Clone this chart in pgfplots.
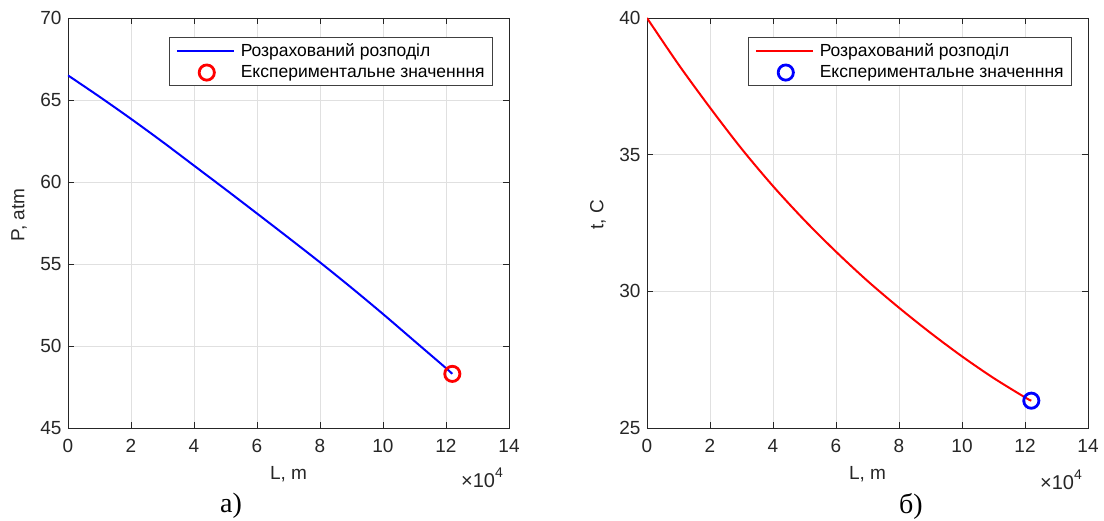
\documentclass[border=0pt]{standalone}
\usepackage{fontspec}
\setmainfont{Liberation Sans}
\newfontfamily\capfont{Liberation Serif}
\usepackage{pgfplots}
\pgfplotsset{compat=1.18}

\definecolor{axgray}{gray}{0.15}
\definecolor{gridgray}{gray}{0.88}

\pgfplotsset{
  mlab/.style={
    width=441pt, height=410pt, scale only axis,
    xmin=0, xmax=14, xtick={0,2,...,14},
    grid=major,
    major grid style={gridgray, line width=0.7pt},
    axis line style={axgray, line width=0.8pt},
    every tick/.style={axgray, line width=0.8pt},
    major tick length=6pt,
    tick align=inside,
    /pgf/number format/assume math mode=true,
    tick label style={font=\fontsize{19}{21}\selectfont, text=axgray},
    xticklabel style={yshift=-8pt},
    yticklabel style={xshift=-3pt},
    every axis x label/.style={at={(rel axis cs:0.5,0)}, anchor=center,
      yshift=-46pt, font=\fontsize{19}{21}\selectfont, text=axgray},
    every axis y label/.style={at={(rel axis cs:0,0.5)}, anchor=center,
      rotate=90, xshift=8pt, yshift=49pt, font=\fontsize{19}{21}\selectfont, text=axgray},
    xlabel={L, m},
    legend cell align=left,
    legend style={at={(rel axis cs:0.9637,0.9537)}, anchor=north east,
      draw=black!75, line width=0.6pt, font=\fontsize{17.5}{19}\selectfont,
      inner xsep=6pt, inner ysep=4pt, row sep=4pt},
  },
  curve/.style={line width=2pt, smooth, no markers,
    legend image code/.code={\path[draw=none] (0pt,0pt) -- (62pt,0pt);
      \draw[##1, line width=2pt] (0pt,0pt) -- (57pt,0pt);}},
  expt/.style={only marks, mark=o, mark size=7.6pt, line width=2.8pt,
    legend image code/.code={\path[draw=none] (0pt,0pt) -- (62pt,0pt);
      \draw[##1, mark size=7.6pt, line width=2.8pt] plot coordinates {(30pt,0pt)};}},
}

\begin{document}
\begin{tikzpicture}
\useasboundingbox (0,0) rectangle (1104pt,520pt);

% left: pressure
\begin{axis}[mlab, at={(68pt,92pt)}, anchor=south west,
    ymin=45, ymax=70, ytick={45,50,...,70},
    ylabel={P, atm}]
  \addplot[curve, blue] coordinates {
    (0,66.5) (1,65.2) (2,63.85) (3,62.45) (4,61.0) (5,59.55) (6,58.08)
    (7,56.6) (8,55.1) (9,53.55) (10,51.95) (11,50.3) (12,48.65) (12.2,48.3)
  };
  \addlegendentry{Розрахований розподіл}
  \addplot[expt, red] coordinates {(12.2,48.3)};
  \addlegendentry{Експериментальне значенння}
\end{axis}

% right: temperature
\begin{axis}[mlab, at={(647pt,92pt)}, anchor=south west,
    ymin=25, ymax=40, ytick={25,30,35,40},
    ylabel={t, C}]
  \addplot[curve, red] coordinates {
    (0,40) (1,38.3) (2,36.72) (3,35.22) (4,33.85) (5,32.6) (6,31.45)
    (7,30.38) (8,29.4) (9,28.48) (10,27.62) (11,26.83) (12,26.12) (12.2,26.0)
  };
  \addlegendentry{Розрахований розподіл}
  \addplot[expt, blue] coordinates {(12.2,26.0)};
  \addlegendentry{Експериментальне значенння}
\end{axis}

\node[font=\fontsize{20}{22}\selectfont, text=axgray] at (482pt,42pt)
  {×10\raisebox{0.5em}{\fontsize{14}{14}\selectfont 4}};
\node[font=\fontsize{20}{22}\selectfont, text=axgray] at (1061pt,40pt)
  {×10\raisebox{0.5em}{\fontsize{14}{14}\selectfont 4}};

\node[font=\capfont\fontsize{28}{30}\selectfont] at (231pt,14pt) {а)};
\node[font=\capfont\fontsize{28}{30}\selectfont] at (911pt,14pt) {б)};
\end{tikzpicture}
\end{document}
